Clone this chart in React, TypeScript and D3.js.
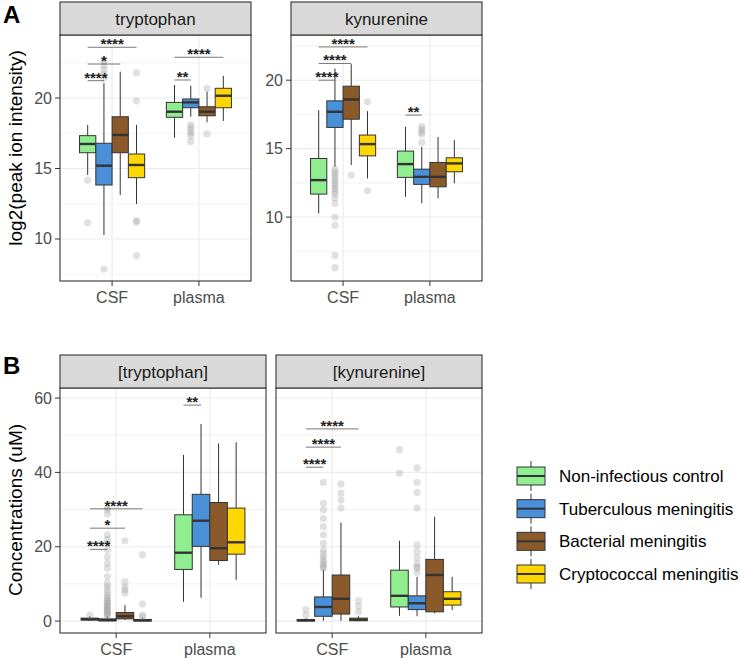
import React from "react";
import * as d3 from "d3";

const groups = ["Non-infectious control", "Tuberculous meningitis", "Bacterial meningitis", "Cryptococcal meningitis"];
const groupColors = ["#90EE90", "#4A90D9", "#8B5A2B", "#FFD700"];
const tissues = ["CSF", "plasma"];

// box stats: [tissue][group] = [whiskerLow, q1, median, q3, whiskerHigh]
const trpAStats = [
  [[14.54, 16.12, 16.74, 17.33, 18.09], [10.28, 13.83, 15.2, 16.79, 21.06], [13.12, 16.12, 17.38, 18.67, 21.87], [12.48, 14.35, 15.25, 16.03, 18.09]],
  [[17.18, 18.63, 19.03, 19.69, 20.92], [18.67, 19.31, 19.69, 19.93, 20.87], [18.28, 18.74, 19.03, 19.38, 20.45], [18.37, 19.31, 20.16, 20.69, 21.58]],
];
const trpAOut = [
  [[14.18, 11.16], [22.6, 22.3, 22.0, 21.7, 21.4, 7.87], [], [21.8, 19.8, 11.3, 11.2, 8.82]],
  [[], [18.1, 17.9, 17.7, 17.5, 17.3, 16.9], [20.69, 17.45], []],
];
const trpASig: [number, number, number, number, string][] = [
  [0, 0, 3, 23.6, "****"], [0, 0, 2, 22.41, "*"], [0, 0, 1, 21.23, "****"], [1, 0, 3, 22.89, "****"], [1, 0, 1, 21.28, "**"],
];

const kynAStats = [
  [[10.27, 11.68, 12.7, 14.28, 17.81], [13.67, 16.55, 17.69, 18.49, 20.85], [13.8, 17.15, 18.59, 19.56, 21.17], [12.82, 14.47, 15.33, 15.99, 17.74]],
  [[11.48, 12.9, 13.87, 14.82, 16.59], [11.0, 12.39, 12.94, 13.5, 15.13], [11.37, 12.21, 12.94, 13.99, 15.86], [12.46, 13.31, 13.92, 14.33, 15.62]],
];
const kynAOut = [
  [[], [13.5, 13.3, 13.1, 12.9, 12.7, 12.5, 12.3, 12.1, 11.9, 11.7, 11.4, 11.0, 10.0, 9.4, 7.2, 6.3], [13.07], [18.42, 11.92]],
  [[], [16.6, 16.4, 16.2, 16.05, 15.45], [], []],
];
const kynASig: [number, number, number, number, string][] = [
  [0, 0, 3, 22.43, "****"], [0, 0, 2, 21.22, "****"], [0, 0, 1, 20.0, "****"], [1, 0, 1, 17.45, "**"],
];

const trpBStats = [
  [[0.1, 0.3, 0.5, 0.8, 1.3], [0, 0.1, 0.25, 0.6, 1.3], [0.3, 0.6, 1.3, 2.3, 4.3], [0, 0.05, 0.2, 0.45, 0.9]],
  [[5.2, 13.9, 18.4, 28.6, 44.7], [6.3, 20.1, 27.0, 34.1, 53.0], [15.1, 16.3, 19.6, 31.9, 47.8], [11.1, 18.0, 21.2, 30.4, 48.1]],
];
const trpBOut = [
  [[1.6], [30.5, 29.9, 28.8, 23.2, 22.0, 20.9, 19.1, 17.3, 15.6, 14.2, 12.0, 10.2, 9.3, 8.4, 7.5, 6.8, 6.2, 5.6, 5.2, 4.8, 4.4, 4.0, 3.6, 3.2, 2.8, 2.4, 2.0, 1.7, 1.5], [21.6, 10.6, 9.2, 8.4, 7.5], [17.8, 4.6, 1.6, 1.2]],
  [[], [], [], []],
];
const trpBSig: [number, number, number, number, string][] = [
  [0, 0, 3, 30.2, "****"], [0, 0, 2, 25.0, "*"], [0, 0, 1, 19.3, "****"], [1, 0, 1, 58.1, "**"],
];

const kynBStats = [
  [[0, 0.05, 0.2, 0.4, 0.8], [0.1, 1.3, 3.8, 6.5, 13.9], [0.1, 1.9, 6.0, 12.4, 26.5], [0, 0.1, 0.4, 0.8, 1.3]],
  [[1.4, 3.8, 6.8, 13.7, 21.6], [1.3, 3.1, 4.8, 6.8, 11.9], [2.1, 2.5, 12.4, 16.6, 28.1], [3.0, 4.3, 6.0, 7.9, 11.9]],
];
const kynBOut = [
  [[3.1, 1.6], [37.3, 31.7, 29.9, 27.6, 25.4, 23.2, 20.9, 19.1, 18.2, 17.3, 16.5, 15.8, 15.2, 14.6, 14.2], [36.9, 34.4, 32.6, 30.4], [5.5, 4.0, 2.5]],
  [[46.1, 39.8], [41.2, 37.3, 34.6, 30.4, 20.5, 18.7, 17.1, 15.5, 14.6, 14.2, 13.0], [], []],
];
const kynBSig: [number, number, number, number, string][] = [
  [0, 0, 3, 51.7, "****"], [0, 0, 2, 46.8, "****"], [0, 0, 1, 41.4, "****"],
];

const ticksA = [10, 15, 20];
const minorA = [7.5, 12.5, 17.5, 22.5];
const ticksB = [0, 20, 40, 60];
const minorB = [10, 30, 50];

const FONT = "Liberation Sans, Arial, sans-serif";
const DARK = "#333333";

type PanelProps = {
  x0: number; x1: number; stripTop: number; stripBottom: number; plotBottom: number;
  domain: [number, number]; ticks: number[]; minor: number[];
  stats: number[][][]; outliers: number[][][]; sig: [number, number, number, number, string][];
  title: string; showY: boolean;
};

function Panel(p: PanelProps) {
  const x = d3.scaleLinear().domain([0.4, 2.6]).range([p.x0, p.x1]);
  const y = d3.scaleLinear().domain(p.domain).range([p.plotBottom, p.stripBottom]);
  const bw = 0.1875;
  const gx = (t: number, g: number) => x(t + 1 + (g - 1.5) * bw);
  const halfW = (x(bw) - x(0)) / 2;
  const inside = (v: number) => v >= p.domain[0] && v <= p.domain[1];
  return (
    <g>
      <rect x={p.x0} y={p.stripBottom} width={p.x1 - p.x0} height={p.plotBottom - p.stripBottom} fill="#fff" />
      {p.minor.filter(inside).map((v) => (
        <line key={"mi" + v} x1={p.x0} x2={p.x1} y1={y(v)} y2={y(v)} stroke="#ebebeb" strokeWidth={0.6} />
      ))}
      {p.ticks.map((v) => (
        <line key={"ma" + v} x1={p.x0} x2={p.x1} y1={y(v)} y2={y(v)} stroke="#ebebeb" strokeWidth={1.1} />
      ))}
      {tissues.map((t, i) => (
        <line key={"vx" + t} x1={x(i + 1)} x2={x(i + 1)} y1={p.stripBottom} y2={p.plotBottom} stroke="#ebebeb" strokeWidth={1.1} />
      ))}
      {p.stats.map((tis, ti) =>
        tis.map((s, gi) => {
          const cx = gx(ti, gi);
          return (
            <g key={`b${ti}-${gi}`}>
              <line x1={cx} x2={cx} y1={y(s[0])} y2={y(s[1])} stroke={DARK} strokeWidth={1} />
              <line x1={cx} x2={cx} y1={y(s[3])} y2={y(s[4])} stroke={DARK} strokeWidth={1} />
              <rect x={cx - halfW} y={y(s[3])} width={halfW * 2} height={Math.max(0.5, y(s[1]) - y(s[3]))} fill={groupColors[gi]} stroke={DARK} strokeWidth={1} />
              <line x1={cx - halfW} x2={cx + halfW} y1={y(s[2])} y2={y(s[2])} stroke={DARK} strokeWidth={2.4} />
            </g>
          );
        })
      )}
      {p.outliers.map((tis, ti) =>
        tis.map((arr, gi) =>
          arr.map((v, k) => (
            <circle key={`o${ti}-${gi}-${k}`} cx={gx(ti, gi)} cy={y(v)} r={3.6} fill="#9a9a9a" fillOpacity={0.3} />
          ))
        )
      )}
      {p.sig.map(([t, g1, g2, v, lab], k) => {
        const xa = gx(t, g1), xb = gx(t, g2);
        return (
          <g key={"s" + k}>
            <line x1={xa} x2={xb} y1={y(v)} y2={y(v)} stroke="#555" strokeWidth={0.8} />
            <text x={(xa + xb) / 2} y={y(v) + 2} textAnchor="middle" fontSize={15} fontWeight="bold" fill="#222" fontFamily={FONT}>{lab}</text>
          </g>
        );
      })}
      <rect x={p.x0} y={p.stripBottom} width={p.x1 - p.x0} height={p.plotBottom - p.stripBottom} fill="none" stroke={DARK} strokeWidth={1.1} />
      <rect x={p.x0} y={p.stripTop} width={p.x1 - p.x0} height={p.stripBottom - p.stripTop} fill="#d9d9d9" stroke={DARK} strokeWidth={1.1} />
      <text x={(p.x0 + p.x1) / 2} y={(p.stripTop + p.stripBottom) / 2 + 6} textAnchor="middle" fontSize={17} fill="#1a1a1a" fontFamily={FONT}>{p.title}</text>
      {p.showY && p.ticks.map((v) => (
        <g key={"yt" + v}>
          <line x1={p.x0 - 5} x2={p.x0} y1={y(v)} y2={y(v)} stroke={DARK} strokeWidth={1} />
          <text x={p.x0 - 8} y={y(v) + 5.5} textAnchor="end" fontSize={16} fill="#4d4d4d" fontFamily={FONT}>{v}</text>
        </g>
      ))}
      {tissues.map((t, i) => (
        <g key={"xt" + t}>
          <line x1={x(i + 1)} x2={x(i + 1)} y1={p.plotBottom} y2={p.plotBottom + 5} stroke={DARK} strokeWidth={1} />
          <text x={x(i + 1)} y={p.plotBottom + 22} textAnchor="middle" fontSize={16} fill="#4d4d4d" fontFamily={FONT}>{t}</text>
        </g>
      ))}
    </g>
  );
}

export default function App() {
  const legendY = d3.scaleLinear().domain([0, 3]).range([476, 574]);
  return (
    <svg width={740} height={660} style={{ position: "absolute", left: 0, top: 0, background: "#fff" }} fontFamily={FONT}>
      <rect width={740} height={660} fill="#fff" />
      <Panel x0={60} x1={251} stripTop={2} stripBottom={35} plotBottom={281} domain={[7.02, 24.47]} ticks={ticksA} minor={minorA} stats={trpAStats} outliers={trpAOut} sig={trpASig} title="tryptophan" showY={true} />
      <Panel x0={291} x1={482} stripTop={2} stripBottom={35} plotBottom={281} domain={[5.33, 23.3]} ticks={ticksA} minor={minorA} stats={kynAStats} outliers={kynAOut} sig={kynASig} title="kynurenine" showY={true} />
      <Panel x0={60} x1={266} stripTop={355} stripBottom={388} plotBottom={633} domain={[-3.2, 62.7]} ticks={ticksB} minor={minorB} stats={trpBStats} outliers={trpBOut} sig={trpBSig} title="[tryptophan]" showY={true} />
      <Panel x0={276} x1={482} stripTop={355} stripBottom={388} plotBottom={633} domain={[-3.2, 62.7]} ticks={ticksB} minor={minorB} stats={kynBStats} outliers={kynBOut} sig={kynBSig} title="[kynurenine]" showY={false} />
      <text x={3} y={23} fontSize={24} fontWeight="bold" fill="#000">A</text>
      <text x={3} y={374} fontSize={24} fontWeight="bold" fill="#000">B</text>
      <text transform="translate(22,148) rotate(-90)" textAnchor="middle" fontSize={19} fill="#000">log2(peak ion intensity)</text>
      <text transform="translate(22,510) rotate(-90)" textAnchor="middle" fontSize={19} fill="#000">Concentrations (uM)</text>
      {groups.map((g, i) => {
        const cy = legendY(i);
        return (
          <g key={"lg" + g}>
            <line x1={531} x2={531} y1={cy - 15} y2={cy + 15} stroke={DARK} strokeWidth={1} />
            <rect x={517} y={cy - 9} width={28} height={18} fill={groupColors[i]} stroke={DARK} strokeWidth={1} />
            <line x1={517} x2={545} y1={cy} y2={cy} stroke={DARK} strokeWidth={2} />
            <text x={559} y={cy + 6} fontSize={17} fill="#000">{g}</text>
          </g>
        );
      })}
    </svg>
  );
}
